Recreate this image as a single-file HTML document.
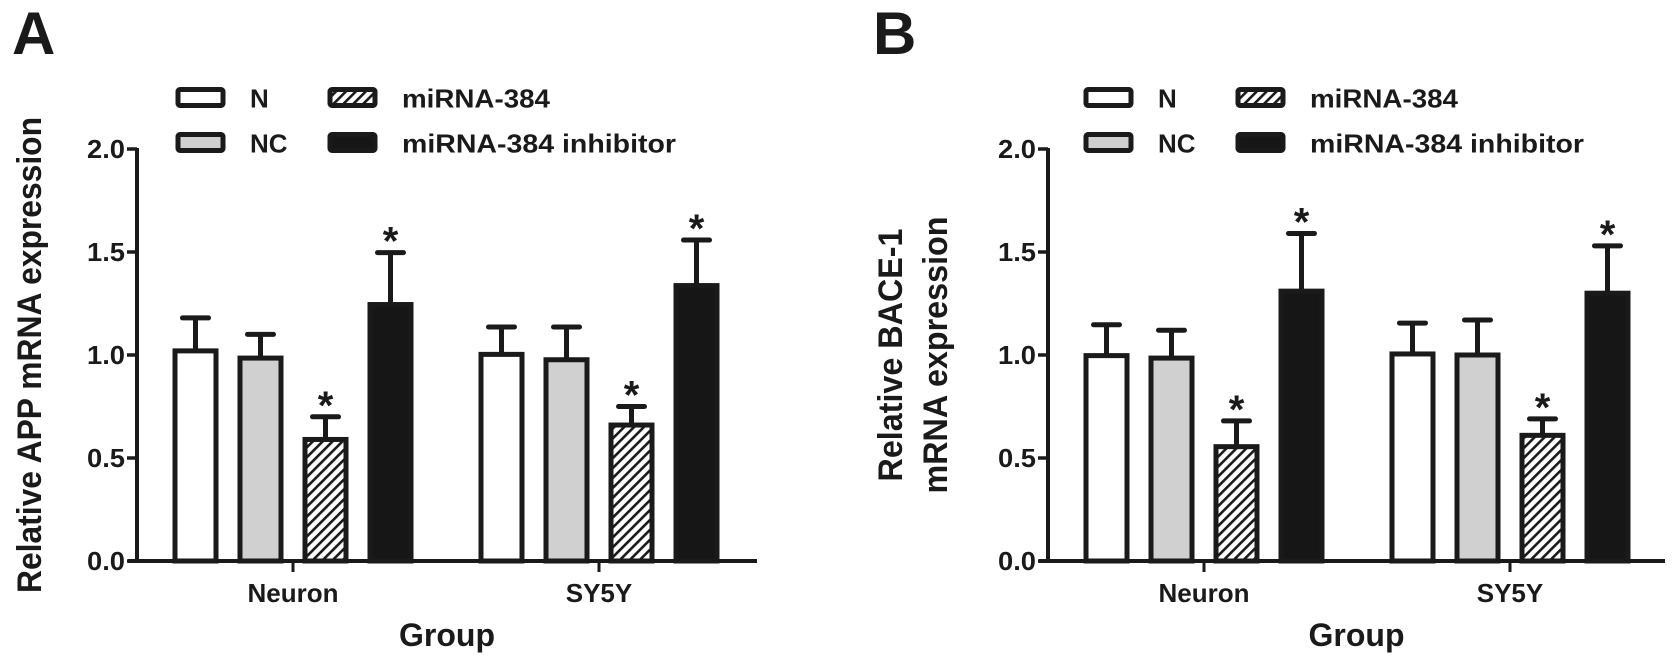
<!DOCTYPE html>
<html><head><meta charset="utf-8"><style>
html,body{margin:0;padding:0;background:#fff;}
svg{display:block;}
text{font-family:"Liberation Sans",Arial,sans-serif;font-weight:bold;fill:#1a1a1a;}
</style></head><body>
<svg id="fig" width="1677" height="666" viewBox="0 0 1677 666" xmlns="http://www.w3.org/2000/svg">
<defs>
<pattern id="hatch" patternUnits="userSpaceOnUse" width="7" height="7" patternTransform="rotate(45)">
<rect width="7" height="7" fill="#fff"/><rect x="0" y="0" width="2.6" height="7" fill="#1a1a1a"/>
</pattern>
</defs>
</svg>
<script>
const categories = ["Neuron", "SY5Y"];
const seriesNames = ["N", "NC", "miRNA-384", "miRNA-384 inhibitor"];
const yTicks = [0.0, 0.5, 1.0, 1.5, 2.0];
const yTickLabels = ["0.0", "0.5", "1.0", "1.5", "2.0"];
// Panel A: APP
const appMean = [[1.02, 0.985, 0.59, 1.245], [1.003, 0.977, 0.66, 1.337]];
const appErrTop = [[1.18, 1.10, 0.70, 1.497], [1.136, 1.136, 0.75, 1.558]];
const appStar = [[false, false, true, true], [false, false, true, true]];
// Panel B: BACE-1
const baceMean = [[0.997, 0.985, 0.555, 1.31], [1.005, 1.0, 0.61, 1.30]];
const baceErrTop = [[1.147, 1.12, 0.68, 1.59], [1.155, 1.17, 0.69, 1.53]];
const baceStar = [[false, false, true, true], [false, false, true, true]];

const NS = "http://www.w3.org/2000/svg";
const svg = document.getElementById("fig");
const fills = ["#ffffff", "#d0d0d0", "url(#hatch)", "#161616"];
const INK = "#1a1a1a";

function mk(tag, attrs, parent) {
  const e = document.createElementNS(NS, tag);
  for (const k in attrs) e.setAttribute(k, attrs[k]);
  (parent || svg).appendChild(e);
  return e;
}

function panel(opts) {
  const g = mk("g", {});
  
  
  const ax = opts.axisX, y0 = 561, yTop = 149, xEnd = opts.axisEnd;
  const yScale = v => y0 - v * (y0 - yTop) / 2.0;
  const xGroup = i => ax + 156 + i * 306;
  const offsets = [-97.5, -32.5, 32.5, 97.5];
  const bw = 46;

  // panel letter
  const L = mk("text", {x: opts.letterX, y: 54, "font-size": 60}, g);
  L.textContent = opts.letter;
  
  

  // y axis
  const yAxis = mk("line", {x1: ax, y1: yTop - 1, x2: ax, y2: y0 + 2, stroke: INK, "stroke-width": 4}, g);
  
  
  yTicks.forEach((t, i) => {
    const yy = yScale(t);
    const tk = mk("line", {x1: ax - 10, y1: yy, x2: ax, y2: yy, stroke: INK, "stroke-width": 3.5}, g);
    
    
    const tl = mk("text", {x: ax - 12, y: yy + 9, "font-size": 26, "text-anchor": "end", "textLength": 38, "lengthAdjust": "spacingAndGlyphs"}, g);
    tl.textContent = yTickLabels[i];
    
    
  });

  // bars
  categories.forEach((c, gi) => {
    seriesNames.forEach((s, si) => {
      const cx = xGroup(gi) + offsets[si];
      const v = opts.mean[gi][si];
      const top = yScale(v), et = yScale(opts.err[gi][si]);
      const eb = mk("line", {x1: cx, y1: top, x2: cx, y2: et, stroke: INK, "stroke-width": 5}, g);
      
      
      const cap = mk("line", {x1: cx - 13, y1: et, x2: cx + 13, y2: et, stroke: INK, "stroke-width": 5, "stroke-linecap": "round"}, g);
      
      
      const r = mk("rect", {x: cx - bw / 2 + 2.5, y: top, width: bw - 5, height: y0 - top, fill: fills[si], stroke: INK, "stroke-width": 5}, g);
      
      
      if (opts.star[gi][si]) {
        const st = mk("text", {x: cx, y: et + 2, "font-size": 40, "text-anchor": "middle"}, g);
        st.textContent = "*";
        
        
      }
    });
    const gx = xGroup(gi);
    const xt = mk("line", {x1: gx, y1: y0, x2: gx, y2: y0 + 11, stroke: INK, "stroke-width": 3}, g);
    
    
    const xl = mk("text", {x: gx, y: 602, "font-size": 26, "text-anchor": "middle"}, g);
    xl.textContent = c;
    
    
  });

  // x axis
  const xAxis = mk("line", {x1: ax - 9, y1: y0, x2: xEnd, y2: y0, stroke: INK, "stroke-width": 4}, g);
  
  
  const xTitle = mk("text", {x: (ax + xEnd) / 2, y: 646, "font-size": 32, "text-anchor": "middle"}, g);
  xTitle.textContent = "Group";
  
  

  // y title
  opts.yTitle.forEach((line, i) => {
    const tx = opts.yTitleX[i];
    const t = mk("text", {x: 0, y: 0, "font-size": 34, "text-anchor": "middle", transform: "translate(" + tx + ",355) rotate(-90)"}, g);
    if (opts.yTitleLen[i]) { t.setAttribute("textLength", opts.yTitleLen[i]); t.setAttribute("lengthAdjust", "spacingAndGlyphs"); }
    t.textContent = line;
    
    
  });

  // legend
  const lx = opts.legendX;
  seriesNames.forEach((s, si) => {
    const col = Math.floor(si / 2), row = si % 2;
    const bx = lx + col * 152, by = row === 0 ? 89.5 : 134.5;
    const lg = mk("g", {}, g);
    
    
    mk("rect", {x: bx, y: by, width: 45, height: 16, rx: 2, fill: fills[si], stroke: INK, "stroke-width": 5}, lg);
    const lt = mk("text", {x: bx + 72, y: by + 18, "font-size": 26}, lg);
    if (si === 3) { lt.setAttribute("textLength", 274); lt.setAttribute("lengthAdjust", "spacingAndGlyphs"); }
    if (si === 2) { lt.setAttribute("textLength", 148); lt.setAttribute("lengthAdjust", "spacingAndGlyphs"); }
    lt.textContent = s;
  });
}

panel({name: "panel-a-app", letter: "A", letterX: 12, axisX: 137, axisEnd: 757,
  mean: appMean, err: appErrTop, star: appStar, legendX: 178,
  yTitle: ["Relative APP mRNA expression"], yTitleX: [41], yTitleLen: [476]});
panel({name: "panel-b-bace1", letter: "B", letterX: 873, axisX: 1048, axisEnd: 1665,
  mean: baceMean, err: baceErrTop, star: baceStar, legendX: 1086,
  yTitle: ["Relative BACE-1", "mRNA expression"], yTitleX: [902, 947], yTitleLen: [253, 277]});
</script>
</body></html>
